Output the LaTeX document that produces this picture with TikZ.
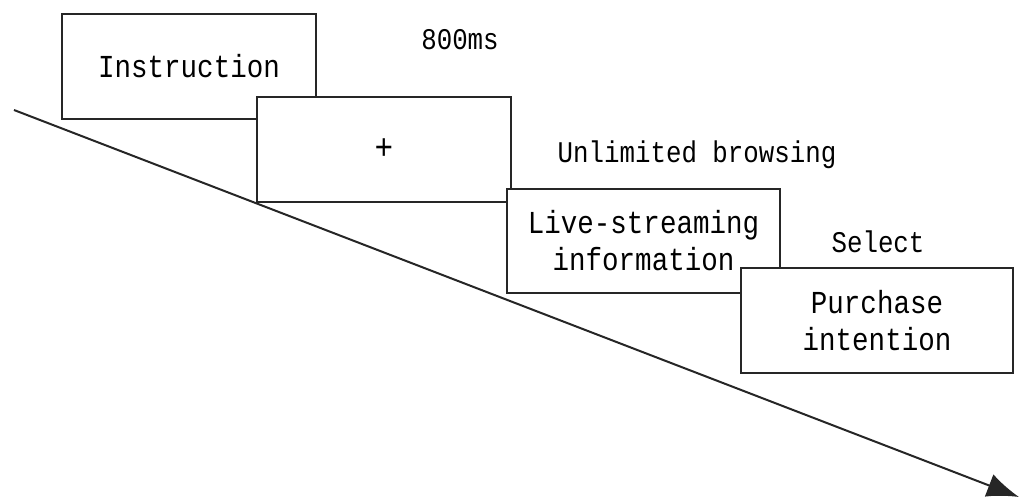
\documentclass[tikz,border=0pt]{standalone}
\usepackage{fontspec}
\newfontfamily\stagefont[FakeStretch=0.86]{Liberation Mono}
\usetikzlibrary{arrows.meta}

\tikzset{
  stage/.style={draw=black!85, line width=2pt, fill=white, inner sep=0pt,
    align=center, font=\stagefont\fontsize{32}{37}\selectfont},
  gap/.style={inner sep=0pt, font=\stagefont\fontsize{30}{34}\selectfont}
}

\begin{document}
\begin{tikzpicture}[x=1pt,y=-1pt]
    \useasboundingbox (0,0) rectangle (1019,497);

    \coordinate (tA) at (14,110);
    \coordinate (tB) at (1019,497);
    \draw[draw=black!85, line width=2pt, -{Latex[length=32pt,width=24pt]}] (tA) -- (tB);

    \node[stage, minimum width=254pt, minimum height=105pt] (bA) at (189,66.5) {Instruction};
    \node[stage, minimum width=254pt, minimum height=105pt] (bB) at (384,149.5) {\fontsize{36}{36}\selectfont+};
    \node[stage, minimum width=273pt, minimum height=104pt] (bC) at (643.5,241) {Live-streaming\\information};
    \node[stage, minimum width=272pt, minimum height=105pt] (bD) at (877,320.5) {Purchase\\intention};

    \node[gap] (lA) at (460,40) {800ms};
    \node[gap] (lB) at (697,155) {Unlimited browsing};
    \node[gap] (lC) at (878,242) {Select};
\end{tikzpicture}
\end{document}
